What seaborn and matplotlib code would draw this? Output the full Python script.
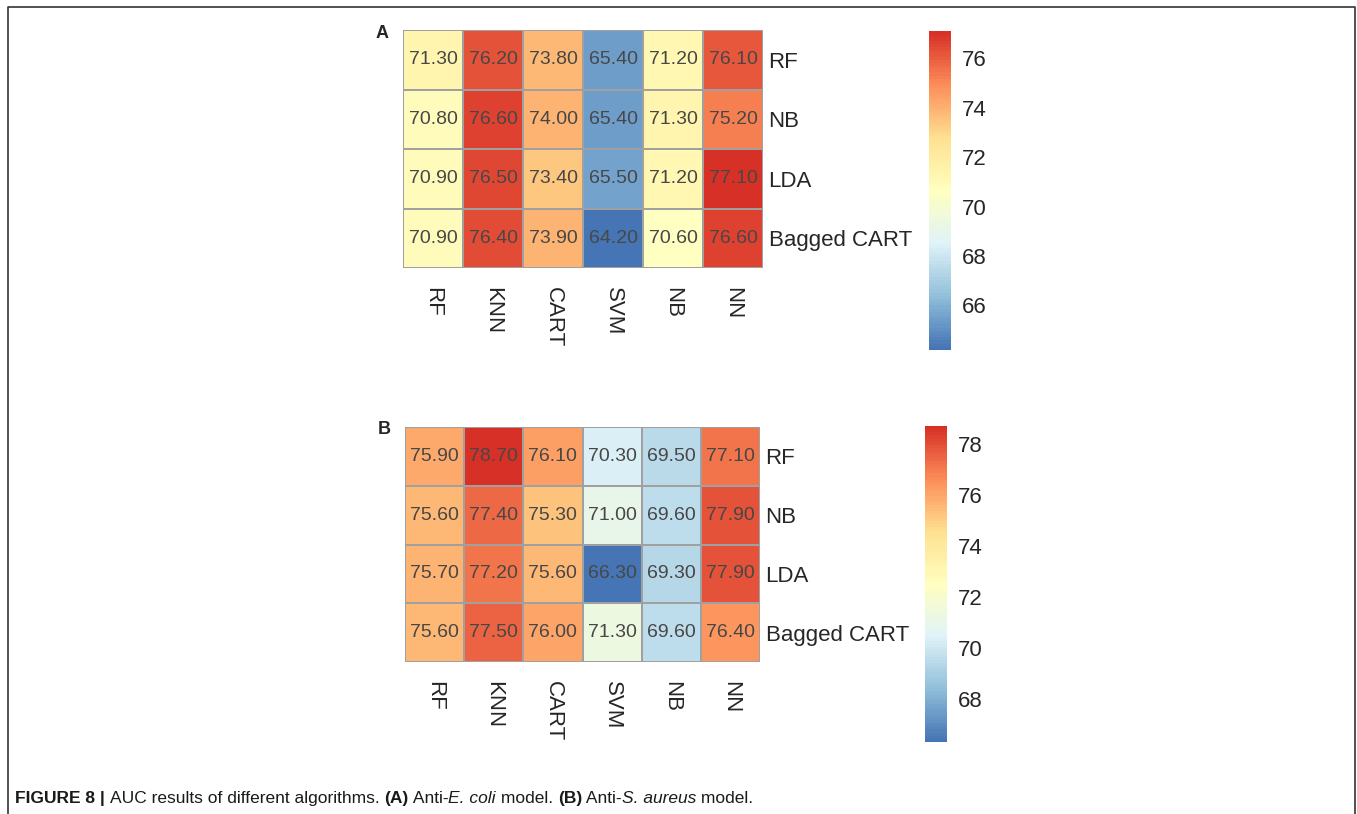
import numpy as np
import pandas as pd
import matplotlib
matplotlib.use("Agg")
import matplotlib.pyplot as plt
import seaborn as sns
from matplotlib.colors import LinearSegmentedColormap
from matplotlib.lines import Line2D

algos = ["RF", "KNN", "CART", "SVM", "NB", "NN"]
selectors = ["RF", "NB", "LDA", "Bagged CART"]

auc_ecoli = [
    [71.3, 76.2, 73.8, 65.4, 71.2, 76.1],
    [70.8, 76.6, 74.0, 65.4, 71.3, 75.2],
    [70.9, 76.5, 73.4, 65.5, 71.2, 77.1],
    [70.9, 76.4, 73.9, 64.2, 70.6, 76.6],
]
auc_saureus = [
    [75.9, 78.7, 76.1, 70.3, 69.5, 77.1],
    [75.6, 77.4, 75.3, 71.0, 69.6, 77.9],
    [75.7, 77.2, 75.6, 66.3, 69.3, 77.9],
    [75.6, 77.5, 76.0, 71.3, 69.6, 76.4],
]

sns.set_style("white")
plt.rcParams['font.family'] = ['Liberation Sans', 'DejaVu Sans']

# pheatmap default palette
cmap = LinearSegmentedColormap.from_list(
    "rdylbu", ["#4575B4", "#91BFDB", "#E0F3F8", "#FFFFBF", "#FEE090", "#FC8D59", "#D73027"], N=100)

W, H = 1357, 814
fig = plt.figure(figsize=(W / 100, H / 100), dpi=100)


def px_axes(x0, y0, x1, y1):
    return fig.add_axes([x0 / W, 1 - y1 / H, (x1 - x0) / W, (y1 - y0) / H])


panels = [
    ("A", auc_ecoli, (403, 30, 763, 268), (929, 31, 951, 350), [66, 68, 70, 72, 74, 76]),
    ("B", auc_saureus, (405, 427, 760, 662), (925, 426, 947, 742), [68, 70, 72, 74, 76, 78]),
]

for letter, vals, hm_box, cb_box, cb_ticks in panels:
    df = pd.DataFrame(vals, index=selectors, columns=algos)
    ax = px_axes(*hm_box)
    cax = px_axes(*cb_box)
    sns.heatmap(df, ax=ax, cbar_ax=cax, cmap=cmap, annot=True, fmt=".2f",
                annot_kws={"size": 14, "color": "#474747"},
                linewidths=1.3, linecolor="#A0A0A0",
                vmin=df.values.min(), vmax=df.values.max())
    ax.yaxis.tick_right()
    ax.set_yticklabels(selectors, rotation=0, fontsize=16, ha="left")
    ax.set_xticklabels(algos, rotation=270, fontsize=16, va="top")
    ax.tick_params(length=0, pad=4)
    ax.tick_params(axis="x", pad=14)
    ax.set_xlabel("")
    ax.set_ylabel("")
    cax.set_yticks(cb_ticks)
    cax.tick_params(length=0, labelsize=16, pad=8)
    for sp in cax.spines.values():
        sp.set_visible(False)
    fig.text((hm_box[0] - 27) / W, 1 - (hm_box[1] + 3) / H, letter,
             fontsize=13, fontweight="bold", va="center", ha="left")

# figure frame (top, left, right)
fig.add_artist(Line2D([8 / W, 8 / W, 1355 / W, 1355 / W], [0, 1 - 7 / H, 1 - 7 / H, 0],
                      transform=fig.transFigure, color="#333333", lw=1.2))

# caption with mixed styles
parts = [
    ("FIGURE 8 | ", "bold", "normal"),
    ("AUC results of different algorithms. ", "normal", "normal"),
    ("(A)", "bold", "normal"),
    (" Anti-", "normal", "normal"),
    ("E. coli", "normal", "italic"),
    (" model. ", "normal", "normal"),
    ("(B)", "bold", "normal"),
    (" Anti-", "normal", "normal"),
    ("S. aureus", "normal", "italic"),
    (" model.", "normal", "normal"),
]
renderer = fig.canvas.get_renderer()
x = 15
for txt, wt, st in parts:
    t = fig.text(x / W, 1 - 803 / H, txt, fontsize=12.5, fontweight=wt, fontstyle=st,
                 ha="left", va="baseline", color="#1a1a1a")
    bb = t.get_window_extent(renderer=renderer)
    x += bb.width

fig.savefig("out.png", dpi=100)
